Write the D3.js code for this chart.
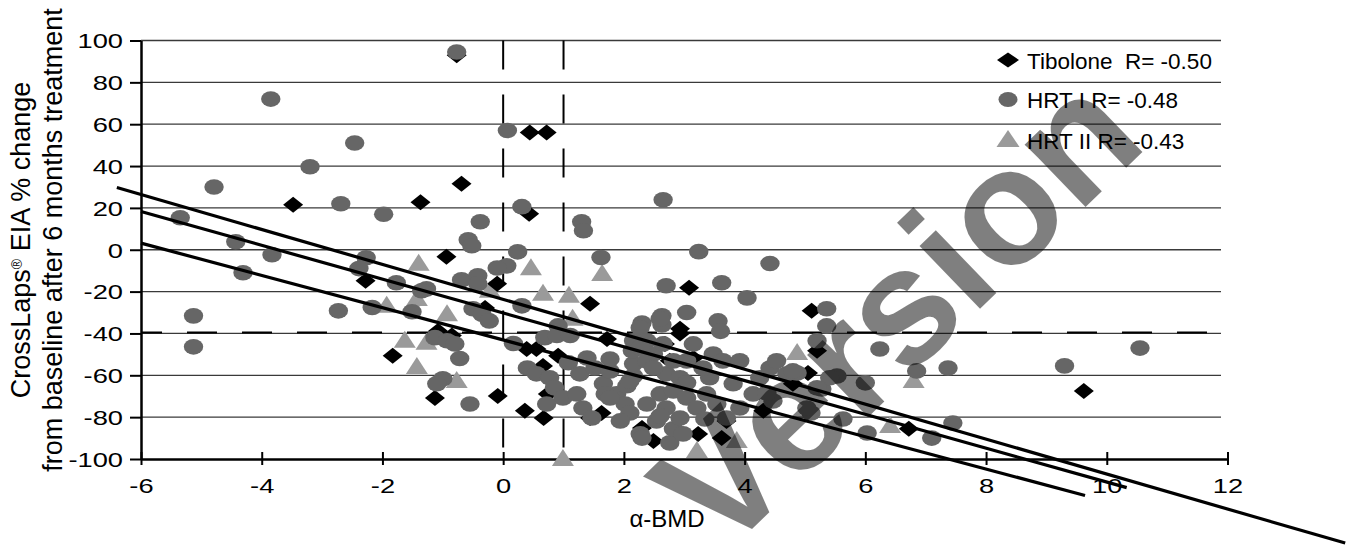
<!DOCTYPE html>
<html lang="en">
<head>
<meta charset="utf-8">
<title>CrossLaps vs alpha-BMD</title>
<script src="https://d3js.org/d3.v7.min.js"></script>
<style>
  body { margin: 0; background: #fff; }
  svg { display: block; font-family: "Liberation Sans", Arial, sans-serif; }
  .legend text { white-space: pre; }
</style>
</head>
<body>
<svg id="chart" width="1347" height="546"></svg>
<script>
// values: [alpha-BMD, CrossLaps % change]
var tibolone = [[-3.48,21.5],[-1.37,22.7],[-0.69,31.6],[-0.77,93],[0.44,56],[0.72,56],[0.43,17.2],[-0.94,-3.3],
  [-2.28,-14.8],[-0.1,-16.2],[-1.83,-50.7],[-1.13,-70.8],[-1.08,-38.8],[-0.85,-41],[-0.3,-27.8],[1.44,-25.8],
  [3.08,-18.2],[2.93,-37.8],[5.11,-29.2],[1.72,-42.6],[0.39,-47.4],[0.55,-47.4],[0.91,-50.7],[0.66,-55.5],
  [0.74,-68.9],[-0.09,-69.9],[0.36,-77],[0.67,-80.4],[1.44,-80.4],[1.63,-78],[2.49,-91.4],[2.3,-85.2],
  [3.23,-88],[3.62,-90],[3.7,-81.8],[2.68,-45],[2.93,-40],[2.76,-53.1],[3.15,-51.7],[4.31,-77],[5.2,-48.3],
  [5.05,-58.9],[4.8,-64],[6.72,-85.6],[9.62,-67.5]];

var hrt1 = [[-5.35,15.3],[-4.79,30],[-3.85,72],[-3.2,39.7],[-2.46,51],[-2.69,22],[-1.98,17],[-4.43,3.8],
  [-3.83,-2.4],[-4.31,-11],[-2.27,-3.8],[-2.39,-9],[-5.13,-31.6],[-5.13,-46.4],[-2.73,-29.2],[-2.17,-27.6],
  [-1.77,-15.8],[-1.51,-29.6],[-1.27,-18.7],[-1.35,-19.6],[-1.13,-42],[-0.93,-43.5],[-0.8,-45],[-0.72,-52],
  [-1.0,-61.7],[-1.1,-64],[-0.55,-73.7],[-0.77,94.5],[0.07,57],[0.31,20.6],[-0.38,13.4],[1.3,13.4],[1.33,9.1],
  [-0.58,4.8],[-0.52,1.9],[0.24,-1],[0.06,-7.7],[-0.1,-8.7],[-0.69,-14.4],[-0.42,-12.4],[-0.42,-16.3],
  [-0.5,-28.2],[-0.35,-30.8],[-0.23,-34],[0.31,-26.8],[0.91,-36.4],[2.65,23.9],[3.24,-0.9],[4.42,-6.6],
  [1.62,-3.7],[2.7,-17.2],[3.62,-15.8],[4.04,-23],[3.04,-30],[2.3,-35],[2.63,-31.6],[2.63,-35.9],[3.56,-34],
  [3.6,-39],[5.36,-28.2],[5.36,-36.4],[10.55,-47],[9.3,-55.5],[7.37,-56.5],[6.85,-57.9],[6.24,-47.4],
  [7.45,-82.8],[7.1,-90],[6.03,-87.6],[6.0,-63.6],[5.53,-60.3],[5.63,-80.9],[5.28,-66.5],[5.2,-43.5],
  [4.87,-58.9],[5.1,-78],[5.41,-61.2],[5.03,-75.6],[0.17,-44.8],[0.69,-42],[0.89,-41],[1.11,-41],[0.4,-56.5],
  [0.55,-59.3],[0.77,-61.2],[0.85,-66],[0.99,-70.8],[0.72,-73.7],[1.08,-54],[1.22,-68.9],[1.32,-75.6],
  [1.47,-80.4],[1.27,-59.3],[1.39,-51.7],[1.52,-56.5],[1.66,-64],[1.77,-57.9],[1.77,-52.2],[1.69,-68.9],
  [1.88,-68.9],[2.05,-65],[2.16,-60.3],[2.16,-54.5],[2.14,-48.3],[2.16,-43.5],[2.27,-37.3],[2.38,-43.5],
  [2.49,-49.8],[2.02,-73.7],[2.1,-78],[2.38,-73.7],[2.27,-88],[2.54,-81.8],[2.76,-92.3],[2.82,-85.6],
  [2.7,-75.6],[2.6,-68.9],[2.82,-67.5],[2.7,-59.3],[2.82,-53.1],[2.65,-45],[2.6,-33],[2.93,-61.2],
  [3.04,-53.1],[3.15,-45],[3.04,-70.8],[3.21,-75.6],[2.93,-80.4],[2.98,-88],[3.37,-68.9],[3.42,-61.2],
  [3.31,-56.5],[3.48,-49.8],[3.64,-53.1],[3.54,-73.7],[3.7,-80.4],[3.81,-64],[3.92,-75.6],[3.92,-53.1],
  [4.14,-68.9],[4.25,-61.2],[4.42,-56.5],[4.53,-53.1],[4.7,-59.3],[4.8,-57.9],[4.47,-72.3],[5.2,-66],
  [2.27,-46.9],[2.38,-53.1],[2.1,-62.7],[2.49,-56.5],[3.04,-63.6],[4.37,-68.4],[1.77,-70.8],[2.6,-79.4],
  [1.94,-81.8],[2.3,-90],[3.34,-80.9]];

var hrt2 = [[-1.4,-6.7],[-1.93,-26.8],[-1.63,-43.5],[-1.43,-56],[-1.27,-44.4],[-1.43,-23.5],[-0.93,-30.8],
  [-0.77,-62.7],[-0.22,-19.6],[0.46,-8.8],[0.66,-21],[1.09,-22],[1.15,-33],[1.64,-11.6],[0.99,-100],
  [3.21,-96.2],[3.87,-91.4],[4.87,-49.3],[6.41,-84.2],[6.8,-62.7]];

// regression lines: y = intercept + slope * x, drawn from start to end
var trendStart = [-6.4, -6, -6];
var trendEnd = [13.95, 10.33, 9.64];
var trendIntercept = [-23.7, -30.2, -43.1];
var trendSlope = [-8.35, -8.08, -7.71];

var xTicks = [-6, -4, -2, 0, 2, 4, 6, 8, 10, 12];
var yTicks = [-100, -80, -60, -40, -20, 0, 20, 40, 60, 80, 100];
var refX = [0, 1];      // dashed verticals
var refY = [-40];       // dashed horizontal
var legendLabels = ["Tibolone  R= -0.50", "HRT I R= -0.48", "HRT II R= -0.43"];

var svg = d3.select("#chart");

var x = d3.scaleLinear().domain([-6, 12]).range([141, 1227.5]);
var y = d3.scaleLinear().domain([-100, 100]).range([459, 40.5]);

var gridEnd = x(12) - 6.5;
var plain = function (d) { return String(d); }; // hyphen minus like the original

// horizontal gridlines
svg.append("g").selectAll("line")
  .data(yTicks.filter(function (d) { return d > -100; }))
  .enter().append("line")
  .attr("x1", x(-6)).attr("x2", gridEnd)
  .attr("y1", function (d) { return y(d); })
  .attr("y2", function (d) { return y(d); })
  .attr("stroke", "#3a3a3a").attr("stroke-width", 1.3);

// dashed reference lines
svg.append("g").selectAll("line")
  .data(refY).enter().append("line")
  .attr("x1", x(-6)).attr("x2", gridEnd)
  .attr("y1", function (d) { return y(d) - 1; })
  .attr("y2", function (d) { return y(d) - 1; })
  .attr("stroke", "#000").attr("stroke-width", 2)
  .attr("stroke-dasharray", "30,25").attr("stroke-dashoffset", 9);

svg.append("g").selectAll("line")
  .data(refX).enter().append("line")
  .attr("x1", function (d) { return x(d); })
  .attr("x2", function (d) { return x(d); })
  .attr("y1", y(100)).attr("y2", y(-100))
  .attr("stroke", "#000").attr("stroke-width", 2)
  .attr("stroke-dasharray", "29,25");

// axes
var yAxis = d3.axisLeft(y).tickValues(yTicks).tickFormat(plain).tickSizeInner(11).tickSizeOuter(0);
var xAxis = d3.axisBottom(x).tickValues(xTicks).tickFormat(plain).tickSizeInner(6).tickSizeOuter(0);

var gy = svg.append("g").attr("transform", "translate(" + x(-6) + ",0)").call(yAxis);
var gx = svg.append("g").attr("transform", "translate(0," + y(-100) + ")").call(xAxis);

[gy, gx].forEach(function (g) {
  g.attr("font-family", null).attr("font-size", null);
  g.select(".domain").attr("stroke", "#000").attr("stroke-width", 2.5);
  g.selectAll(".tick line").attr("stroke", "#000").attr("stroke-width", 2);
  g.selectAll(".tick text").attr("fill", "#000").style("font-size", "21px");
});

gy.selectAll(".tick text")
  .attr("x", -18 / 1.3).attr("dy", "0.35em")
  .attr("transform", "scale(1.3,1)");

gx.selectAll(".tick line").attr("y1", -7).attr("y2", 6);
gx.selectAll(".tick text")
  .attr("y", 34).attr("dy", 0)
  .attr("transform", "scale(1.3,1)");

// markers: triangles, diamonds, then circles on top
svg.append("g").selectAll("path")
  .data(hrt2).enter().append("path")
  .attr("d", "M0,-10L11,7L-11,7Z")
  .attr("transform", function (d) { return "translate(" + x(d[0]) + "," + y(d[1]) + ")"; })
  .attr("fill", "#9a9a9a");

svg.append("g").selectAll("path")
  .data(tibolone).enter().append("path")
  .attr("d", "M0,-8L10,0L0,8L-10,0Z")
  .attr("transform", function (d) { return "translate(" + x(d[0]) + "," + y(d[1]) + ")"; })
  .attr("fill", "#000");

svg.append("g").selectAll("ellipse")
  .data(hrt1).enter().append("ellipse")
  .attr("cx", function (d) { return x(d[0]); })
  .attr("cy", function (d) { return y(d[1]); })
  .attr("rx", 9.7).attr("ry", 7.8)
  .attr("fill", "#666");

// trend lines
svg.append("g").selectAll("line")
  .data(trendStart).enter().append("line")
  .attr("x1", function (d) { return x(d); })
  .attr("y1", function (d, i) { return y(trendIntercept[i] + trendSlope[i] * d); })
  .attr("x2", function (d, i) { return x(trendEnd[i]); })
  .attr("y2", function (d, i) { return y(trendIntercept[i] + trendSlope[i] * trendEnd[i]); })
  .attr("stroke", "#000").attr("stroke-width", 3.2);

// legend
var legend = svg.append("g").attr("class", "legend");
var legendRow = [60, 99.5, 140];
var shapes = ["M0,-7.5L11,0L0,7.5L-11,0Z", null, "M0,-10L11.5,7L-11.5,7Z"];
legendLabels.forEach(function (lab, i) {
  var g = legend.append("g").attr("transform", "translate(1008," + legendRow[i] + ")");
  if (i === 1) {
    g.append("ellipse").attr("rx", 9.5).attr("ry", 7.5).attr("fill", "#666");
  } else {
    g.append("path").attr("d", shapes[i]).attr("fill", i === 0 ? "#000" : "#9a9a9a");
  }
  g.append("text").attr("x", 19).attr("y", 8.5)
    .style("font-size", "22.5px").attr("fill", "#000").text(lab);
});

// axis titles
svg.append("text")
  .attr("x", 667).attr("y", 527).attr("text-anchor", "middle")
  .style("font-size", "24px").text("\u03b1-BMD");

var ylab = svg.append("text")
  .attr("transform", "translate(30,240) rotate(-90)")
  .attr("text-anchor", "middle").style("font-size", "27px");
ylab.append("tspan").text("CrossLaps");
ylab.append("tspan").attr("baseline-shift", "super").style("font-size", "14px").text("\u00ae");
ylab.append("tspan").text(" EIA % change");

svg.append("text")
  .attr("transform", "translate(62,240) rotate(-90)")
  .attr("text-anchor", "middle").style("font-size", "27px")
  .text("from baseline after 6 months treatment");

// watermark
svg.append("text")
  .attr("transform", "translate(721,559) rotate(-44)")
  .attr("font-weight", "bold").style("font-size", "165px")
  .attr("fill", "#000").attr("fill-opacity", 0.5)
  .text("Version");
</script>
</body>
</html>
